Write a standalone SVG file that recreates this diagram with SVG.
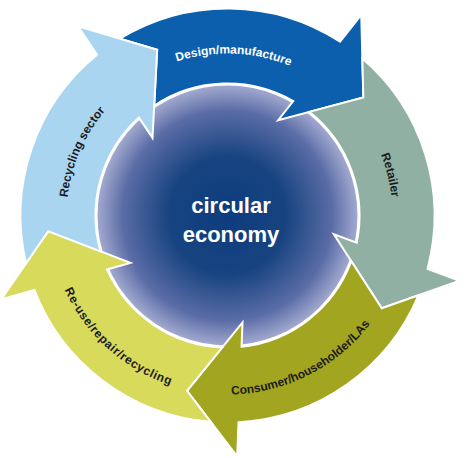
<svg xmlns="http://www.w3.org/2000/svg" xmlns:xlink="http://www.w3.org/1999/xlink" width="467" height="458" viewBox="0 0 467 458">
<style>
.arrow{stroke:#ffffff;stroke-width:2;stroke-linejoin:miter}
.lbl{font-family:"Liberation Sans",Arial,sans-serif;font-weight:bold;font-size:12px;fill:#1c1c1c}
.lbl-w{fill:#ffffff}
.center{font-family:"Liberation Sans",Arial,sans-serif;font-weight:bold;font-size:22px;fill:#ffffff;text-anchor:middle}
</style>
<defs>
<radialGradient id="core" cx="227.5" cy="215.5" r="131" gradientUnits="userSpaceOnUse">
<stop offset="0" stop-color="#0d3c7e"/>
<stop offset="0.45" stop-color="#174480"/>
<stop offset="0.8" stop-color="#5a6ca6"/>
<stop offset="1" stop-color="#a4abd0"/>
</radialGradient>
<path id="arrow" class="arrow" d="M34.69,-204.07 A207,207 0 0 1 198.93,-57.25 L232.5,-63.6 L180,0 L100.8,-38.7 L124.72,-43.22 A132,132 0 0 0 16.68,-130.94 L55.62,-171.19 Z"/>
<path id="p-design" d="M90.42,129.17 A162,162 0 0 1 370.81,139.94"/>
<path id="p-retailer" d="M272.98,56.89 A165,165 0 0 1 342.13,334.19"/>
<path id="p-consumer" d="M130.01,365.63 A179,179 0 0 0 406.25,224.87"/>
<path id="p-reuse" d="M52.41,178.28 A179,179 0 0 0 282.81,385.74"/>
<path id="p-recycling" d="M98.07,311.26 A161,161 0 0 1 209.27,55.53"/>
</defs>
<rect width="467" height="458" fill="#ffffff"/>
<g id="circular-economy">
<circle cx="227.5" cy="215.5" r="131" fill="url(#core)" stroke="#ffffff" stroke-width="2"/>
<text class="center" x="231" y="213">circular</text>
<text class="center" x="231" y="242">economy</text>
</g>
<g id="design-manufacture">
<use xlink:href="#arrow" href="#arrow" transform="translate(227.5 215.5) rotate(319)" fill="#0b5fad"/>
<text class="lbl lbl-w"><textPath xlink:href="#p-design" href="#p-design" startOffset="50%" text-anchor="middle">Design/manufacture</textPath></text>
</g>
<g id="retailer">
<use xlink:href="#arrow" href="#arrow" transform="translate(227.5 215.5) rotate(31)" fill="#8fb0a2"/>
<text class="lbl"><textPath xlink:href="#p-retailer" href="#p-retailer" startOffset="50%" text-anchor="middle">Retailer</textPath></text>
</g>
<g id="consumer">
<use xlink:href="#arrow" href="#arrow" transform="translate(227.5 215.5) rotate(103)" fill="#a2a520"/>
<text class="lbl"><textPath xlink:href="#p-consumer" href="#p-consumer" startOffset="50%" text-anchor="middle">Consumer/householder/LAs</textPath></text>
</g>
<g id="reuse">
<use xlink:href="#arrow" href="#arrow" transform="translate(227.5 215.5) rotate(175)" fill="#d8da5c"/>
<text class="lbl" letter-spacing="0.6"><textPath xlink:href="#p-reuse" href="#p-reuse" startOffset="50%" text-anchor="middle">Re-use/repair/recycling</textPath></text>
</g>
<g id="recycling-sector">
<use xlink:href="#arrow" href="#arrow" transform="translate(227.5 215.5) rotate(247)" fill="#a9d5f1"/>
<text class="lbl"><textPath xlink:href="#p-recycling" href="#p-recycling" startOffset="50%" text-anchor="middle">Recycling sector</textPath></text>
</g>
<g id="connectors"/>
</svg>
